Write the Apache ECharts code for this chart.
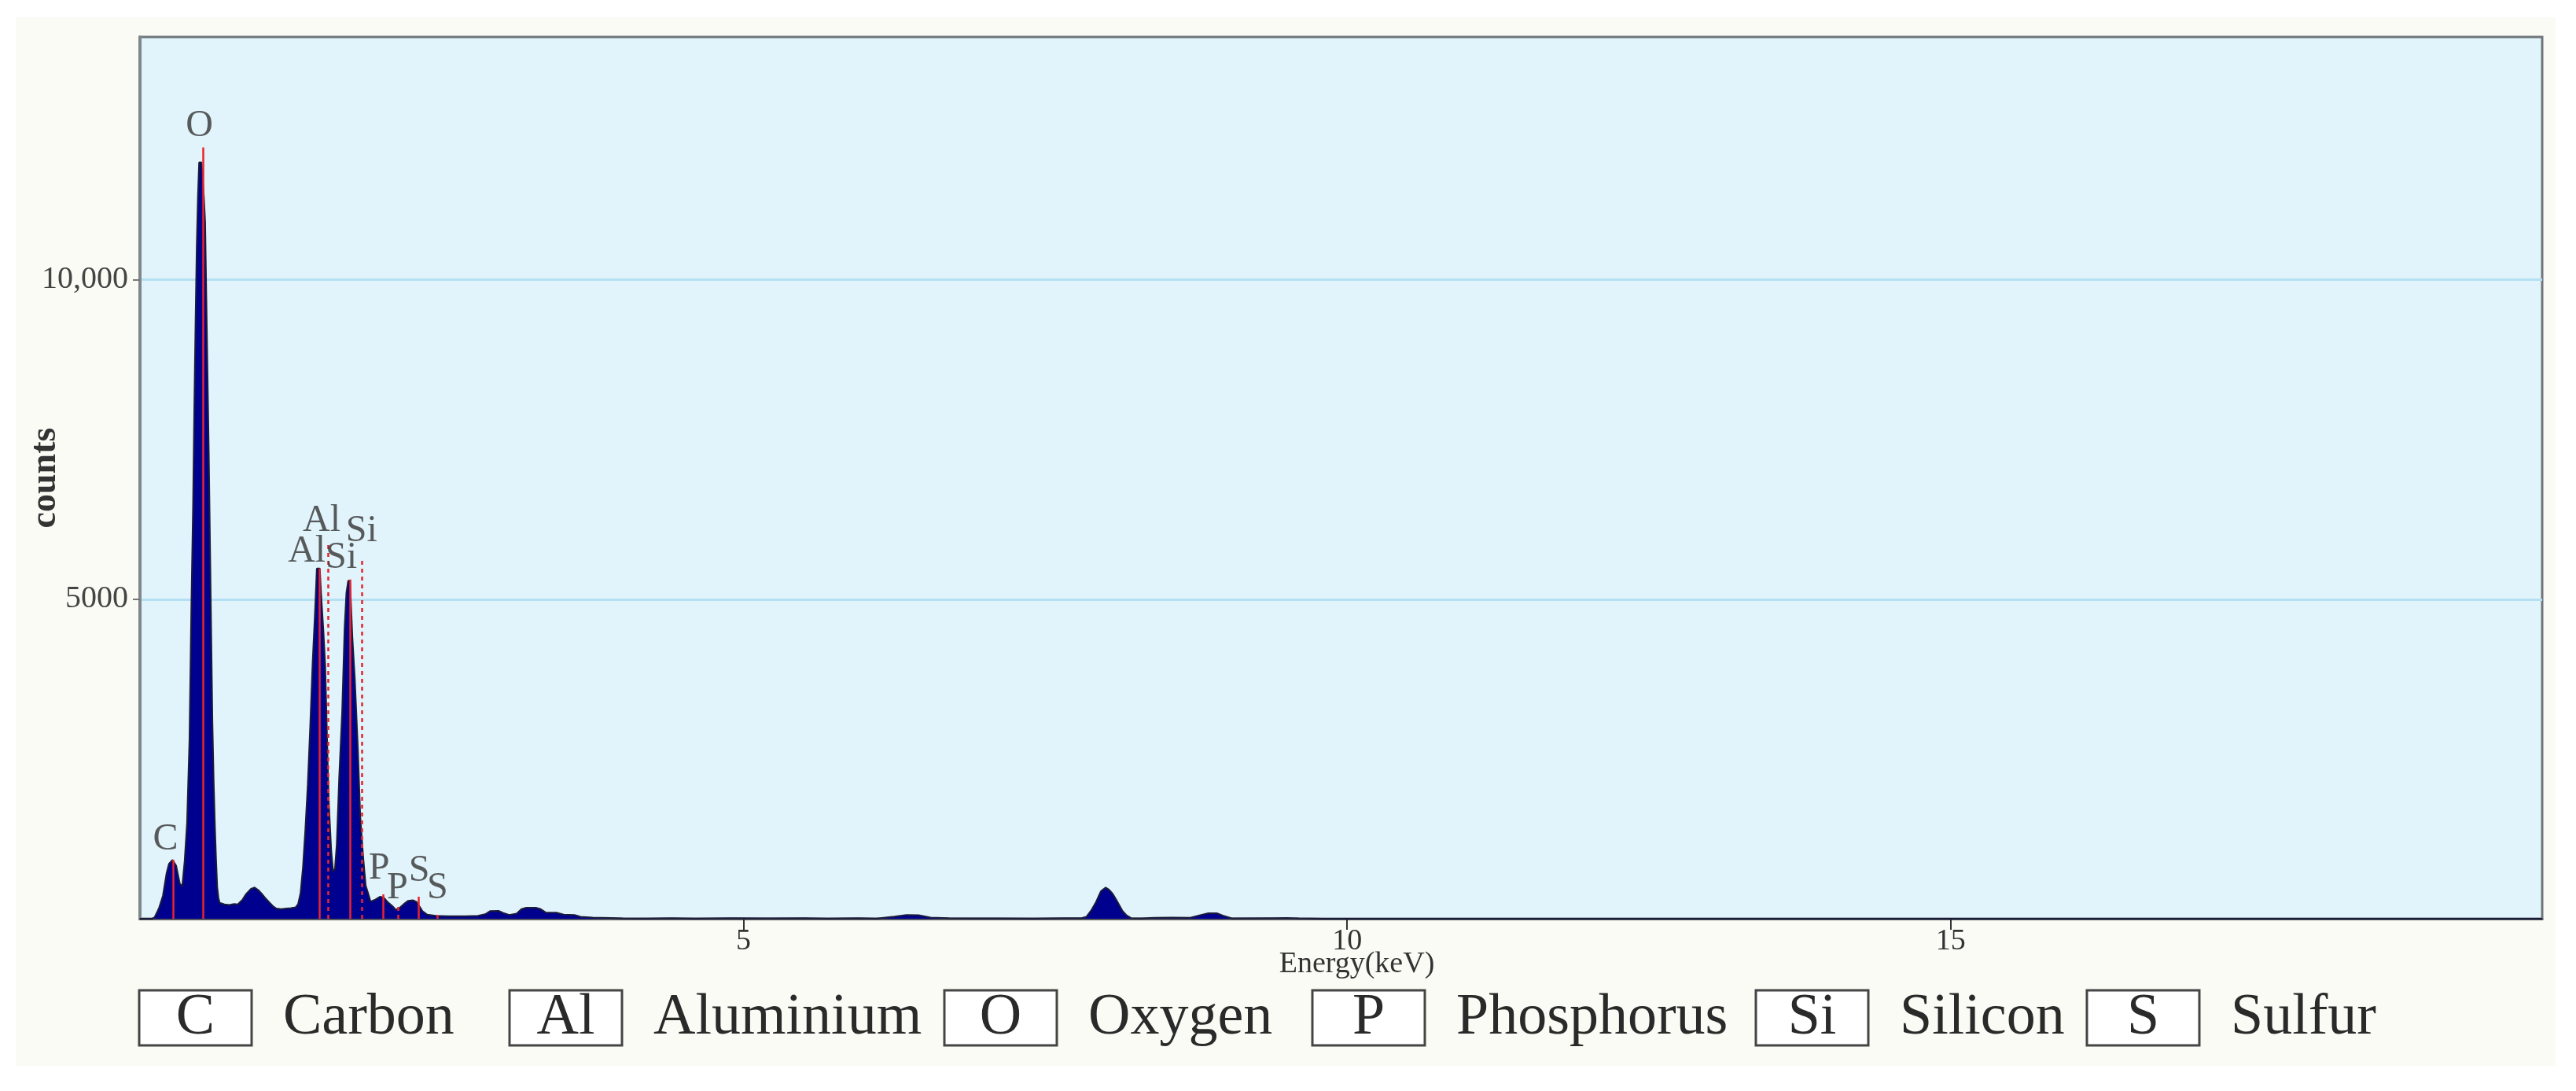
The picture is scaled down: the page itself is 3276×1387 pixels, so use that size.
<!DOCTYPE html>
<html>
<head>
<meta charset="utf-8">
<script src="https://cdn.jsdelivr.net/npm/echarts@6/dist/echarts.min.js"></script>
<style>
html,body{margin:0;padding:0;background:#ffffff;}
#c{width:3276px;height:1387px;}
</style>
</head>
<body>
<div id="c"></div>
<script>
// ---- data ----
const energyKeV = [
  0.00,0.10,0.12,0.14,0.16,0.19,0.22,0.24,0.27,0.30,0.33,0.35,0.37,0.39,0.41,0.425,0.44,0.45,0.46,0.47,0.48,0.49,0.51,0.52,0.53,0.54,0.55,0.56,0.57,0.58,0.59,0.60,0.61,0.62,0.63,0.64,0.65,0.66,
  0.70,0.74,0.78,0.81,0.85,0.88,0.92,0.95,0.98,1.01,1.04,1.07,1.10,1.13,1.17,1.21,1.25,1.29,
  1.31,1.33,1.35,1.37,1.39,1.41,1.43,1.45,1.465,1.49,1.50,1.52,1.535,1.555,1.565,1.585,1.60,1.615,1.63,1.65,1.675,1.695,1.71,1.725,1.74,1.76,1.78,1.805,1.825,1.85,1.87,1.89,
  1.91,1.95,1.99,2.02,2.05,2.09,2.12,2.15,2.18,2.22,2.26,2.29,2.32,2.34,2.38,2.45,2.55,2.70,2.80,2.86,2.90,2.97,3.01,3.06,3.12,3.16,3.20,3.28,3.32,3.36,3.45,3.51,3.60,3.65,3.75,3.90,
  4.00,4.20,4.40,4.60,4.90,5.20,5.50,5.70,5.95,6.10,6.25,6.35,6.45,6.55,6.70,6.90,7.10,7.40,7.65,7.80,
  7.84,7.88,7.92,7.96,8.00,8.03,8.06,8.09,8.11,8.14,8.17,8.21,8.30,8.40,8.55,8.70,8.79,8.85,8.92,8.97,9.05,9.40,9.50,9.60,9.80,10.5,19.9
];
const counts = [
  0,0,20,95,180,360,710,860,920,830,550,505,900,1500,2800,4800,6500,8000,9300,10500,11300,11835,11835,11835,11280,10900,9700,8500,7300,5900,4500,3100,2200,1500,950,500,330,250,
  225,215,230,225,300,390,470,490,450,390,320,260,200,160,150,160,165,180,
  230,400,800,1400,2100,3000,4000,4800,5480,5480,5100,4500,3950,2450,1800,1050,740,780,1160,2200,3250,4550,5100,5290,5290,4400,3750,2670,1600,950,520,400,
  270,300,345,330,265,200,140,170,220,280,290,265,180,120,65,45,40,40,45,70,120,123,90,60,80,150,172,172,150,100,95,65,58,30,20,12,
  6,4,8,3,10,5,8,3,10,2,35,60,55,20,8,5,6,2,8,10,
  30,130,263,430,489,450,386,290,222,120,58,10,5,15,18,15,60,86,86,50,5,10,12,5,0,0,0
];

// characteristic X-ray lines marked on the spectrum
const lineSymbols  = ['C','O','Al','Al','Si','Si','P','P','S','S'];
const lineEnergies = [0.277,0.525,1.486,1.557,1.740,1.836,2.013,2.139,2.307,2.464];
const lineTops     = [920,12070,5480,5850,5310,5634,382,246,345,123];
const lineKind     = ['Ka','Ka','Ka','Kb','Ka','Kb','Ka','Kb','Ka','Kb'];

const xTickValues = [5,10,15];
const yTickValues = [5000,10000];

const legendSymbols = ['C','Al','O','P','Si','S'];
const legendNames   = ['Carbon','Aluminium','Oxygen','Phosphorus','Silicon','Sulfur'];

// ---- layout (pixels), kept apart from the data ----
const labelLayout = [[-10,10],[-5,11],[-16,5],[-8,14],[-11,11],[0,19],[-5,17],[-1,3],[1,17],[0,13]];
const legendX = [177,648,1201,1669,2233,2654];
const FONT = 'Liberation Serif';

const chart = echarts.init(document.getElementById('c'));

const legendGraphics = legendSymbols.map((s, i) => ({
  type: 'group', x: legendX[i], y: 1259, silent: true,
  children: [
    {type:'rect', shape:{x:0,y:0,width:143,height:70}, style:{fill:'#ffffff', stroke:'#454545', lineWidth:3}},
    {type:'text', x:71.5, y:36, style:{text:s, fontFamily:FONT, fontSize:74, fill:'#2a2a2a', align:'center', verticalAlign:'middle'}},
    {type:'text', x:183, y:36, style:{text:legendNames[i], fontFamily:FONT, fontSize:74, fill:'#2a2a2a', align:'left', verticalAlign:'middle'}}
  ]
}));

const option = {
  animation: false,
  backgroundColor: '#ffffff',
  graphic: [
    {type:'rect', z:-100, silent:true, shape:{x:20,y:22,width:3230,height:1333}, style:{fill:'#fafbf4'}}
  ].concat(legendGraphics),
  grid: {left:178, right:43, top:47, bottom:219, containLabel:false, outerBoundsMode:'none',
    show:true, backgroundColor:'#e1f3fb', borderColor:'#6e767b', borderWidth:3},
  xAxis: {
    type:'value', min:0, max:19.9,
    name:'Energy(keV)', nameLocation:'middle', nameGap:39, nameMoveOverlap:false,
    nameTextStyle:{fontFamily:FONT, fontSize:38, color:'#333', padding:[0,0,0,40]},
    axisLine:{show:true, onZero:false, lineStyle:{color:'#555a5e', width:3}},
    axisTick:{show:true, customValues:xTickValues, length:14, lineStyle:{color:'#333', width:2}},
    axisLabel:{customValues:xTickValues, fontFamily:FONT, fontSize:38, color:'#333', margin:10},
    splitLine:{show:false}
  },
  yAxis: {
    type:'value', min:0, max:13800,
    name:'counts', nameLocation:'middle', nameGap:97, nameMoveOverlap:false,
    nameTextStyle:{fontFamily:FONT, fontSize:46, fontWeight:'bold', color:'#333'},
    axisLine:{show:true, lineStyle:{color:'#80878b', width:4}},
    axisTick:{show:true, customValues:yTickValues, length:9, lineStyle:{color:'#777', width:2}},
    axisLabel:{customValues:yTickValues, fontFamily:FONT, fontSize:40, color:'#444', margin:15,
      formatter: v => v >= 10000 ? v.toLocaleString('en-US') : String(v)},
    splitLine:{show:true, lineStyle:{color:'#b3e0f2', width:3}}
  },
  series: [
    {
      type:'line', name:'spectrum', z:2, silent:true,
      data: energyKeV.map((e, i) => [e, counts[i]]),
      symbol:'none', showSymbol:false,
      lineStyle:{color:'#1b1b3a', width:2},
      areaStyle:{color:'#00008e', opacity:1},
      markLine:{
        silent:true, symbol:['none','none'], label:{show:false}, animation:false,
        data: lineEnergies.map((e, i) => [
          {coord:[e, 0], lineStyle:{color:'#e8242c', width:2.5, type: lineKind[i] === 'Kb' ? [5,5] : 'solid'}},
          {coord:[e, lineTops[i]]}
        ])
      }
    },
    {
      type:'scatter', name:'lines', z:5, silent:true, symbolSize:0,
      data: lineEnergies.map((e, i) => ({
        value:[e, lineTops[i]],
        label:{offset:[labelLayout[i][0], -labelLayout[i][1] + 8]}
      })),
      label:{show:true, position:'top', distance:0, fontFamily:FONT, fontSize:48, color:'#333',
        formatter: p => lineSymbols[p.dataIndex]}
    }
  ]
};
chart.setOption(option);
</script>
</body>
</html>
